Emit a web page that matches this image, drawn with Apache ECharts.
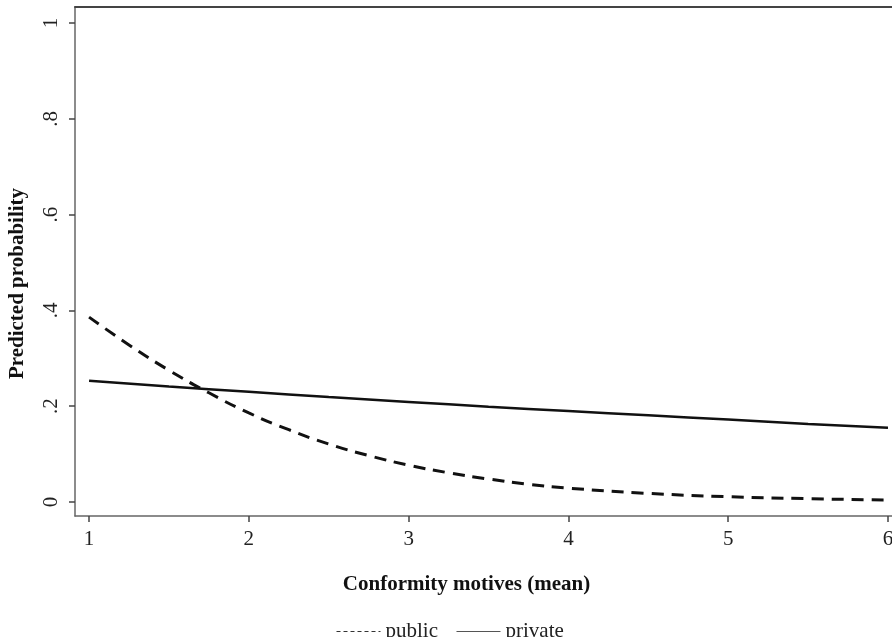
<!DOCTYPE html>
<html>
<head>
<meta charset="utf-8">
<script src="https://cdn.jsdelivr.net/npm/echarts@6/dist/echarts.min.js"></script>
<style>html,body{margin:0;padding:0;background:#fff}#c{width:892px;height:637px}</style>
</head>
<body>
<div id="c"></div>
<script>
const xTicks = [1, 2, 3, 4, 5, 6];
const yTicks = [0, 0.2, 0.4, 0.6, 0.8, 1];
const publicX = [1, 1.25, 1.5, 1.75, 2, 2.25, 2.5, 2.75, 3, 3.25, 3.5, 3.75, 4, 4.5, 5, 5.5, 6];
const publicY = [0.386, 0.328, 0.275, 0.228, 0.186, 0.151, 0.121, 0.097, 0.077, 0.061, 0.048, 0.037, 0.029, 0.018, 0.011, 0.007, 0.004];
const privateX = [1, 1.5, 2, 2.5, 3, 3.5, 4, 4.5, 5, 5.5, 6];
const privateY = [0.253, 0.241, 0.230, 0.219, 0.209, 0.199, 0.190, 0.181, 0.172, 0.163, 0.155];
const seriesNames = ['public', 'private'];
const xTitle = 'Conformity motives (mean)';
const yTitle = 'Predicted probability';

const FONT = 'Liberation Serif';
const FS = 21;
const chart = echarts.init(document.getElementById('c'), null, {renderer: 'canvas'});
const zip = (xs, ys) => xs.map((x, i) => [x, ys[i]]);
chart.setOption({
  animation: false,
  backgroundColor: '#fff',
  color: ['#111', '#111'],
  grid: {left: 75, right: 0, top: 7, bottom: 121, containLabel: false, outerBoundsMode: 'none'},
  legend: {
    left: 331, top: 616,
    itemWidth: 44, itemHeight: 12, itemGap: 18,
    textStyle: {fontFamily: FONT, fontSize: FS, color: '#222'},
    data: [
      {name: seriesNames[0], itemStyle: {opacity: 0}, lineStyle: {type: [4, 3], width: 1, color: '#333'}},
      {name: seriesNames[1], itemStyle: {opacity: 0}, lineStyle: {type: 'solid', width: 1, color: '#555'}}
    ]
  },
  xAxis: [{
    type: 'value', min: 0.912, max: 6.025,
    name: xTitle, nameLocation: 'middle', nameGap: 58,
    nameTextStyle: {fontFamily: FONT, fontSize: FS, fontWeight: 'bold', color: '#111', padding: [0, 34, 0, 0]},
    axisLine: {show: true, onZero: false, lineStyle: {color: '#666', width: 1.5}},
    axisTick: {show: true, length: 6, customValues: xTicks, lineStyle: {color: '#444', width: 1.5}},
    axisLabel: {customValues: xTicks, margin: 13, fontFamily: FONT, fontSize: FS, color: '#222'},
    splitLine: {show: false}
  }, {
    type: 'value', position: 'top', min: 0.912, max: 6.025,
    axisLine: {show: true, onZero: false, lineStyle: {color: '#444', width: 2}},
    axisTick: {show: false}, axisLabel: {show: false}, splitLine: {show: false}
  }],
  yAxis: {
    type: 'value', min: -0.0292, max: 1.0334,
    name: yTitle, nameLocation: 'middle', nameGap: 47,
    nameTextStyle: {fontFamily: FONT, fontSize: FS, fontWeight: 'bold', color: '#111', padding: [0, 44, 0, 0]},
    axisLine: {show: true, onZero: false, lineStyle: {color: '#666', width: 1.5}},
    axisTick: {show: true, length: 6, customValues: yTicks, lineStyle: {color: '#444', width: 1.5}},
    axisLabel: {
      customValues: yTicks, rotate: 90, margin: 13,
      fontFamily: FONT, fontSize: FS, color: '#222',
      formatter: v => (v === 0 ? '0' : v === 1 ? '1' : String(+v.toFixed(1)).replace(/^0\./, '.'))
    },
    splitLine: {show: false}
  },
  series: [{
    name: seriesNames[0], type: 'line', smooth: true, symbol: 'none',
    data: zip(publicX, publicY),
    itemStyle: {color: '#111'},
    lineStyle: {color: '#111', width: 3, type: [12, 8]}
  }, {
    name: seriesNames[1], type: 'line', smooth: true, symbol: 'none',
    data: zip(privateX, privateY),
    itemStyle: {color: '#111'},
    lineStyle: {color: '#111', width: 2.5, type: 'solid'}
  }]
});
</script>
</body>
</html>
